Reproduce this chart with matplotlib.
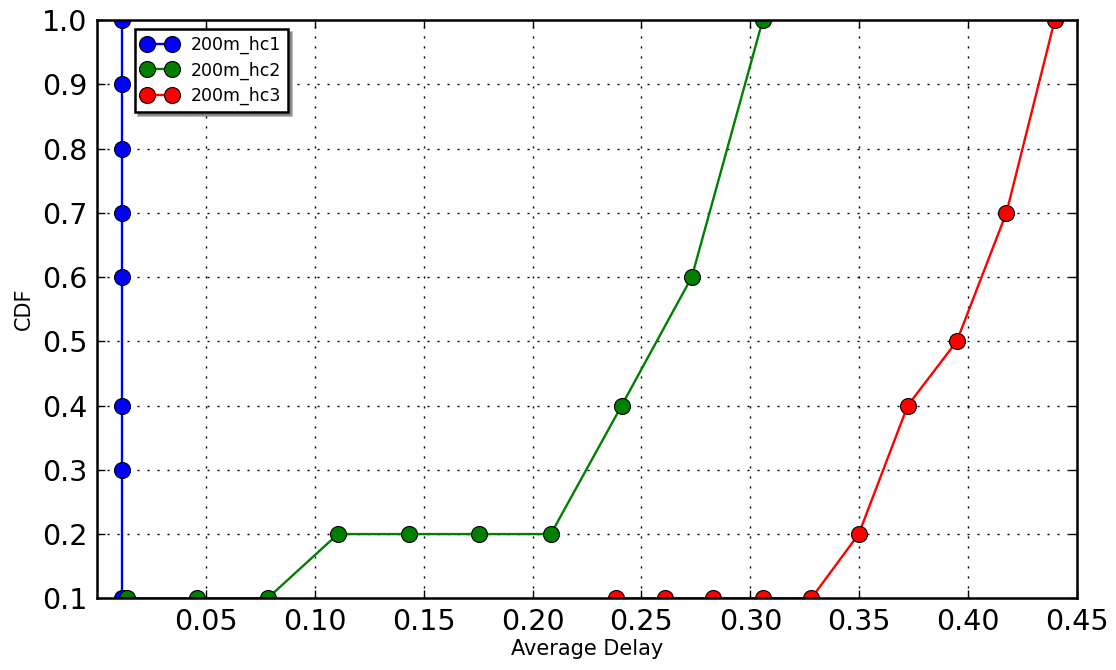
import numpy as np
import matplotlib
matplotlib.use('Agg')
import matplotlib.pyplot as plt

# average delay samples and CDF levels per hop-count setting
hc1_delay = [0.0113, 0.0113, 0.0113, 0.0113, 0.0113, 0.0113, 0.0113, 0.0113]
hc1_cdf = [0.1, 0.3, 0.4, 0.6, 0.7, 0.8, 0.9, 1.0]

hc2_delay = [0.0136, 0.0457, 0.0783, 0.1106, 0.1432, 0.1754, 0.2084, 0.2409, 0.2731, 0.3057]
hc2_cdf = [0.1, 0.1, 0.1, 0.2, 0.2, 0.2, 0.2, 0.4, 0.6, 1.0]

hc3_delay = [0.2382, 0.2606, 0.2828, 0.3057, 0.3280, 0.3498, 0.3723, 0.3948, 0.4176, 0.4398]
hc3_cdf = [0.1, 0.1, 0.1, 0.1, 0.1, 0.2, 0.4, 0.5, 0.7, 1.0]

labels = ['200m_hc1', '200m_hc2', '200m_hc3']
colors = ['#0000ff', '#007f00', '#ff0000']

xticks = [0.05, 0.10, 0.15, 0.20, 0.25, 0.30, 0.35, 0.40, 0.45]
yticks = [0.1, 0.2, 0.3, 0.4, 0.5, 0.6, 0.7, 0.8, 0.9, 1.0]

fig = plt.figure(figsize=(11.16, 6.70), dpi=100)
ax = fig.add_axes([0.087, 0.107, 0.878, 0.863])

series = [(hc1_delay, hc1_cdf), (hc2_delay, hc2_cdf), (hc3_delay, hc3_cdf)]
for (x, y), lab, c in zip(series, labels, colors):
    ax.plot(x, y, '-o', color=c, lw=1.7, markersize=11.5,
            markerfacecolor=c, markeredgecolor='black', markeredgewidth=0.8,
            label=lab)

ax.set_xlim(0, 0.45)
ax.set_ylim(0.1, 1.0)
ax.set_xticks(xticks)
ax.set_xticklabels(['%.2f' % v for v in xticks])
ax.set_yticks(yticks)
ax.set_yticklabels(['%.1f' % v for v in yticks])
ax.tick_params(axis='both', direction='in', length=6, width=1,
               top=True, right=True, labelsize=20.5, pad=7)
for s in ax.spines.values():
    s.set_linewidth(1.8)

ax.grid(True, color='black', linestyle=(0, (1.5, 5.7)), linewidth=1.0)
ax.set_xlabel('Average Delay', fontsize=15, labelpad=2)
ax.set_ylabel('CDF', fontsize=15, labelpad=6)

leg = ax.legend(loc='upper left', numpoints=2, fontsize=12.5, fancybox=False,
                shadow=True, framealpha=1, borderaxespad=0.5,
                handlelength=2.0, handletextpad=0.8, labelspacing=0.42,
                borderpad=0.4, bbox_to_anchor=(0.03, 1.0))
leg.get_frame().set_edgecolor('black')
leg.get_frame().set_linewidth(1.8)

fig.savefig('out.png', dpi=100)
plt.close()
